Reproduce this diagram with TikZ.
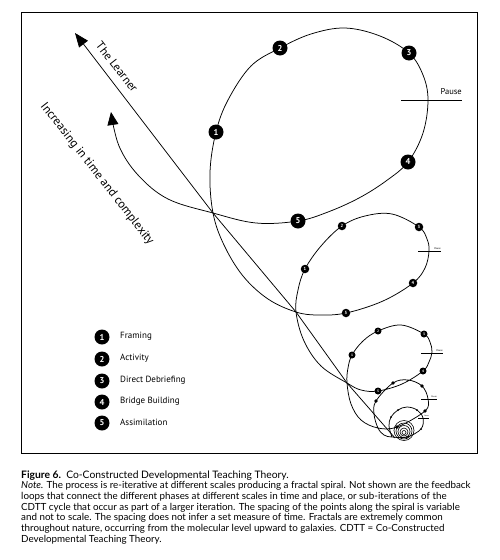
\documentclass[tikz,border=0pt]{standalone}
\usepackage{fontspec}
\setmainfont{PT Sans}
\newfontfamily\capfont{Lato}
\usetikzlibrary{arrows.meta}
\begin{document}
\begin{tikzpicture}[x=1pt,y=-1pt,
  curve/.style={line width=0.75pt, line join=round},
  numA/.style={circle, fill=black, text=white, inner sep=0pt, minimum size=15pt, font=\bfseries\fontsize{8.5}{9}\selectfont},
  numB/.style={circle, fill=black, text=white, inner sep=0pt, minimum size=8.5pt, font=\bfseries\fontsize{4.5}{5}\selectfont},
  numC/.style={circle, fill=black, text=white, inner sep=0pt, minimum size=7pt, font=\bfseries\fontsize{3.5}{4}\selectfont},
  dotD/.style={circle, fill=black, inner sep=0pt, minimum size=3.6pt},
  dotE/.style={circle, fill=black, inner sep=0pt, minimum size=2pt},
  pausebar/.style={line width=0.75pt},
  legtext/.style={anchor=west, font=\fontsize{9}{10}\selectfont, inner sep=0pt}
]
\useasboundingbox (0,0) rectangle (500,560);
\draw[line width=0.8pt] (21,12) rectangle (477,453);

% crossing points
\coordinate (C1) at (213,213);
\coordinate (C2) at (296,312);
\coordinate (C3) at (347,383);
\coordinate (C4) at (378,428);
\coordinate (C5) at (392,437);
% loop 1
\coordinate (a1) at (210,172);
\coordinate (p11) at (216,132);
\coordinate (c11) at (228,100);
\coordinate (c12) at (251,66);
\coordinate (p12) at (280,48);
\coordinate (c13) at (311,34);
\coordinate (t1) at (345,28);
\coordinate (c14) at (380,36);
\coordinate (p13) at (409,53);
\coordinate (c15) at (423,75);
\coordinate (P1) at (428,100);
\coordinate (c16) at (423,133);
\coordinate (p14) at (408,162);
\coordinate (c17) at (386,181);
\coordinate (c18) at (359,198);
\coordinate (c19) at (328,212);
\coordinate (p15) at (298,221);
\coordinate (b1) at (256,223);
% exit of loop 1 (arrow)
\coordinate (e1) at (168,199);
\coordinate (e2) at (138,175);
\coordinate (e3) at (119,146);
\coordinate (Atip) at (111,112);
% loop 2
\coordinate (a2) at (298,290);
\coordinate (p21) at (305,269);
\coordinate (c21) at (321,246);
\coordinate (p22) at (342,226);
\coordinate (c22) at (365,216);
\coordinate (t2) at (392,214);
\coordinate (p23) at (419,227);
\coordinate (c23) at (427,239);
\coordinate (P2) at (429,251);
\coordinate (c24) at (425,268);
\coordinate (p24) at (413,283);
\coordinate (c25) at (383,301);
\coordinate (p25) at (346,313);
\coordinate (b2) at (318,315);
% link C2 -> C1
\coordinate (m21) at (268,299);
\coordinate (m22) at (243,276);
\coordinate (m23) at (224,245);
% loop 3
\coordinate (a3) at (348,368);
\coordinate (p31) at (352,355);
\coordinate (c31) at (363,341);
\coordinate (p32) at (378,331);
\coordinate (t3) at (401,325);
\coordinate (p33) at (424,334);
\coordinate (c33) at (430,342);
\coordinate (P3) at (432,352);
\coordinate (c34) at (429,362);
\coordinate (p34) at (423,371);
\coordinate (c35) at (402,384);
\coordinate (p35) at (378,391);
\coordinate (b3) at (361,390);
% link C3 -> C2
\coordinate (m31) at (321,366);
\coordinate (m32) at (304,341);
% loop 4
\coordinate (a4) at (374,414);
\coordinate (p41) at (376,401);
\coordinate (p42) at (393,383);
\coordinate (t4) at (408,380);
\coordinate (p43) at (422,386);
\coordinate (P4) at (428,399);
\coordinate (p44) at (425,411);
\coordinate (p45) at (397,427);
% link C4 -> C3
\coordinate (m41) at (361,420);
\coordinate (m42) at (351,404);
% loop 5
\coordinate (a5) at (389,426);
\coordinate (p51) at (391,417);
\coordinate (p52) at (398,410);
\coordinate (t5) at (407,407);
\coordinate (p53) at (417,410);
\coordinate (P5) at (423,418);
\coordinate (p54) at (421,429);
\coordinate (p55) at (407,437);
% link C5 -> C4
\coordinate (m51) at (384,435);
% straight line
\coordinate (Lend) at (395,438);
\coordinate (Ltip) at (75,33);

% the spiral
\draw[curve, -{Triangle[length=13pt,width=11pt]}] plot[smooth, tension=0.6] coordinates {
  (C5) (a5) (p51) (p52) (t5) (p53) (P5) (p54) (p55) (C5)
  (m51) (C4) (a4) (p41) (p42) (t4) (p43) (P4) (p44) (p45) (C4)
  (m41) (m42) (C3) (a3) (p31) (c31) (p32) (t3) (p33) (c33) (P3) (c34) (p34) (c35) (p35) (b3) (C3)
  (m31) (m32) (C2) (a2) (p21) (c21) (p22) (c22) (t2) (p23) (c23) (P2) (c24) (p24) (c25) (p25) (b2) (C2)
  (m21) (m22) (m23) (C1) (a1) (p11) (c11) (c12) (p12) (c13) (t1) (c14) (p13) (c15) (P1) (c16) (p14) (c17) (c18) (c19) (p15) (b1) (C1)
  (e1) (e2) (e3) (Atip)};

% inner spiral circles
\foreach \r in {2,4,6,8,10}
  \draw[line width=0.6pt] (404,{433-0.25*\r}) circle[radius=\r];

% the learner line
\draw[curve, -{Triangle[length=14pt,width=11pt]}] (Lend) -- (C3) -- (C2) -- (C1) -- (Ltip);

% labels on arrows
\node[rotate=-52, font=\fontsize{11.8}{12}\selectfont, inner sep=0pt] (learner) at (117,67) {The Learner};
\node[rotate=-52, font=\fontsize{12.2}{13}\selectfont, inner sep=0pt] (incr) at (97,174) {Increasing in time and complexity};

% pause marks
\coordinate (Q1a) at (401,100); \coordinate (Q1b) at (462,100);
\draw[pausebar] (Q1a) -- (Q1b);
\node[anchor=base east, font=\fontsize{8.5}{9}\selectfont, inner sep=0pt] (pause1) at (462,94) {Pause};
\coordinate (Q2a) at (418,251); \coordinate (Q2b) at (441,251);
\draw[pausebar, line width=0.6pt] (Q2a) -- (Q2b);
\node[anchor=base east, font=\fontsize{2.6}{3}\selectfont, inner sep=0pt] (pause2) at (441,249.3) {Pause};
\coordinate (Q3a) at (421,353); \coordinate (Q3b) at (443,353);
\draw[pausebar, line width=0.6pt] (Q3a) -- (Q3b);
\node[anchor=base east, font=\fontsize{2.6}{3}\selectfont, inner sep=0pt] (pause3) at (443,351.3) {Pause};
\coordinate (Q4a) at (421,399); \coordinate (Q4b) at (437,399);
\draw[pausebar, line width=0.6pt] (Q4a) -- (Q4b);
\node[anchor=base east, font=\fontsize{2.2}{3}\selectfont, inner sep=0pt] (pause4) at (437,397.5) {Pause};
\coordinate (Q5a) at (418,418); \coordinate (Q5b) at (429,418);
\draw[pausebar, line width=0.5pt] (Q5a) -- (Q5b);
\node[anchor=base east, font=\fontsize{1.8}{2}\selectfont, inner sep=0pt] (pause5) at (429,416.8) {Pause};

% numbered stations
\node[numA] (n11) at (p11) {1};
\node[numA] (n12) at (p12) {2};
\node[numA] (n13) at (p13) {3};
\node[numA] (n14) at (p14) {4};
\node[numA] (n15) at (p15) {5};
\node[numB] (n21) at (p21) {1};
\node[numB] (n22) at (p22) {2};
\node[numB] (n23) at (p23) {3};
\node[numB] (n24) at (p24) {4};
\node[numB] (n25) at (p25) {5};
\node[numC] (n31) at (p31) {1};
\node[numC] (n32) at (p32) {2};
\node[numC] (n33) at (p33) {3};
\node[numC] (n34) at (p34) {4};
\node[numC] (n35) at (p35) {5};
\node[dotD] (n41) at (p41) {};
\node[dotD] (n42) at (p42) {};
\node[dotD] (n43) at (p43) {};
\node[dotD] (n44) at (p44) {};
\node[dotD] (n45) at (p45) {};
\node[dotE] (n51) at (p51) {};
\node[dotE] (n52) at (p52) {};
\node[dotE] (n53) at (p53) {};
\node[dotE] (n54) at (p54) {};
\node[dotE] (n55) at (p55) {};

% legend
\node[numA] (g1) at (102,337) {1};
\node[numA] (g2) at (102,359) {2};
\node[numA] (g3) at (102,381) {3};
\node[numA] (g4) at (102,402) {4};
\node[numA] (g5) at (102,423) {5};
\node[legtext] (g1t) at (120,336) {Framing};
\node[legtext] (g2t) at (120,358) {Activity};
\node[legtext] (g3t) at (120,380) {Direct Debriefing};
\node[legtext] (g4t) at (120,401) {Bridge Building};
\node[legtext] (g5t) at (120,422) {Assimilation};

% caption
\node[anchor=base west, inner sep=0pt, font=\capfont\fontsize{10.3}{12}\selectfont] (figt) at (21,478)
  {\textbf{Figure 6.}\ \ Co-Constructed Developmental Teaching Theory.};
\node[anchor=north west, inner sep=0pt, align=left, font=\capfont\fontsize{9.8}{10.8}\selectfont] (note) at (21,481)
  {\textit{Note.} The process is re-iterative at different scales producing a fractal spiral. Not shown are the feedback\\
   loops that connect the different phases at different scales in time and place, or sub-iterations of the\\
   CDTT cycle that occur as part of a larger iteration. The spacing of the points along the spiral is variable\\
   and not to scale. The spacing does not infer a set measure of time. Fractals are extremely common\\
   throughout nature, occurring from the molecular level upward to galaxies. CDTT = Co-Constructed\\
   Developmental Teaching Theory.};
\end{tikzpicture}
\end{document}
